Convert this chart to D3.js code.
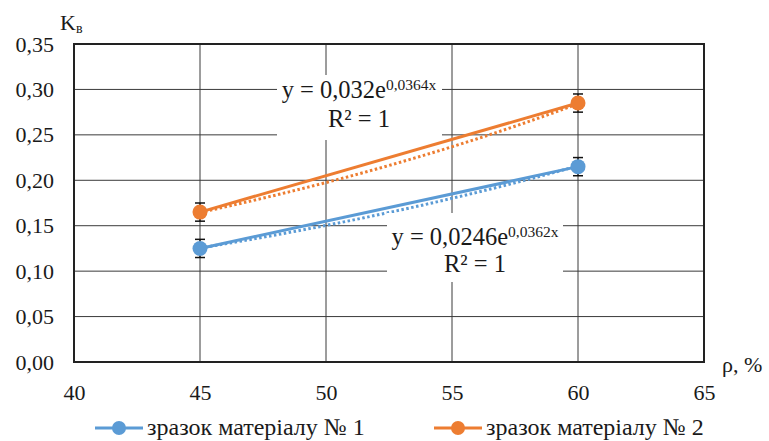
<!DOCTYPE html>
<html>
<head>
<meta charset="utf-8">
<script src="https://cdn.jsdelivr.net/npm/d3@7"></script>
</head>
<body style="margin:0; background:#fff">
<div id="chart"></div>
<script>
const width = 769;
const height = 441;

// Дані
const xValues = [45, 60];
const series1 = [0.125, 0.215];
const series2 = [0.165, 0.285];
const errors = [0.01, 0.01];
const seriesNames = ["зразок матеріалу № 1", "зразок матеріалу № 2"];
const trendA = [0.0246, 0.032];
const trendB = [0.0362, 0.0364];
const trendText = ["0,0246", "0,032"];
const trendPower = ["0,0362x", "0,0364x"];
const xTicks = [40, 45, 50, 55, 60, 65];
const yTicks = [0, 0.05, 0.10, 0.15, 0.20, 0.25, 0.30, 0.35];

const colors = ["#5b9bd5", "#ed7d31"];
const margin = { left: 74, right: 65, top: 44, bottom: 79 };
const serif = "Liberation Serif";

const svg = d3.select("#chart").append("svg")
    .attr("width", width)
    .attr("height", height);

const x = d3.scaleLinear().domain([40, 65]).range([margin.left, width - margin.right]);
const y = d3.scaleLinear().domain([0, 0.35]).range([height - margin.bottom, margin.top]);

const fmt = d => d.toFixed(2).replace(".", ",");

// Сітка
const grid = svg.append("g");
grid.selectAll(".hg").data(yTicks).enter().append("line")
    .attr("x1", x(40)).attr("x2", x(65))
    .attr("y1", d => y(d)).attr("y2", d => y(d))
    .attr("stroke", "#3a3a3a").attr("stroke-width", 1);
grid.selectAll(".vg").data(xTicks).enter().append("line")
    .attr("x1", d => x(d)).attr("x2", d => x(d))
    .attr("y1", y(0)).attr("y2", y(0.35))
    .attr("stroke", "#3a3a3a").attr("stroke-width", 1);

// Рамка
svg.append("rect")
    .attr("x", x(40)).attr("y", y(0.35))
    .attr("width", x(65) - x(40)).attr("height", y(0) - y(0.35))
    .attr("fill", "none").attr("stroke", "#222").attr("stroke-width", 2);

// Осі (тільки підписи)
svg.append("g")
    .attr("transform", `translate(0,${y(0)})`)
    .call(d3.axisBottom(x).tickValues(xTicks).tickSize(0).tickPadding(22))
    .call(g => g.select(".domain").remove());

svg.append("g")
    .attr("transform", `translate(${x(40)},0)`)
    .call(d3.axisLeft(y).tickValues(yTicks).tickFormat(fmt).tickSize(0).tickPadding(20))
    .call(g => g.select(".domain").remove());

// Назви осей
const kv = svg.append("text").attr("x", 60).attr("y", 30).attr("font-size", 22);
kv.append("tspan").text("K");
kv.append("tspan").attr("font-size", 14).attr("dy", 3).text("в");

svg.append("text").attr("x", 722).attr("y", 372).attr("font-size", 22).text("ρ, %");

const allSeries = [series1, series2];

// Лінії тренду (за рівняннями з графіка)
allSeries.forEach((s, i) => {
    const pts = d3.range(45, 60.01, 0.5).map(v => [v, trendA[i] * Math.exp(trendB[i] * v)]);
    svg.append("path")
        .datum(pts)
        .attr("fill", "none")
        .attr("stroke", colors[i])
        .attr("stroke-width", 3)
        .attr("stroke-dasharray", "2.5,2.5")
        .attr("d", d3.line().x(d => x(d[0])).y(d => y(d[1])));
});

// Ряди даних
allSeries.forEach((s, i) => {
    const data = xValues.map((v, j) => ({ x: v, y: s[j], e: errors[j] }));
    svg.append("path")
        .datum(data)
        .attr("fill", "none")
        .attr("stroke", colors[i])
        .attr("stroke-width", 3)
        .attr("d", d3.line().x(d => x(d.x)).y(d => y(d.y)));

    const eb = svg.append("g").selectAll("g").data(data).enter().append("g");
    eb.append("line")
        .attr("x1", d => x(d.x)).attr("x2", d => x(d.x))
        .attr("y1", d => y(d.y - d.e)).attr("y2", d => y(d.y + d.e))
        .attr("stroke", "#111").attr("stroke-width", 1.2);
    eb.append("line")
        .attr("x1", d => x(d.x) - 5).attr("x2", d => x(d.x) + 5)
        .attr("y1", d => y(d.y - d.e)).attr("y2", d => y(d.y - d.e))
        .attr("stroke", "#111").attr("stroke-width", 1.5);
    eb.append("line")
        .attr("x1", d => x(d.x) - 5).attr("x2", d => x(d.x) + 5)
        .attr("y1", d => y(d.y + d.e)).attr("y2", d => y(d.y + d.e))
        .attr("stroke", "#111").attr("stroke-width", 1.5);

    svg.append("g").selectAll("circle").data(data).enter().append("circle")
        .attr("cx", d => x(d.x)).attr("cy", d => y(d.y))
        .attr("r", 7.5)
        .attr("fill", colors[i]);
});

// Рівняння трендів
const labels = [
    { box: [387, 213, 176, 69], cx: 475, y1: 245, y2: 272 },
    { box: [277, 75, 165, 65], cx: 359, y1: 98, y2: 127 }
];
labels.forEach((l, i) => {
    svg.append("rect")
        .attr("x", l.box[0]).attr("y", l.box[1])
        .attr("width", l.box[2]).attr("height", l.box[3])
        .attr("fill", "#fff");
    const t = svg.append("text").attr("x", l.cx).attr("y", l.y1)
        .attr("text-anchor", "middle").attr("font-size", 24.5);
    t.append("tspan").text(`y = ${trendText[i]}e`);
    t.append("tspan").attr("font-size", 15.5).attr("dy", -8).text(trendPower[i]);
    svg.append("text").attr("x", l.cx).attr("y", l.y2)
        .attr("text-anchor", "middle").attr("font-size", 24.5)
        .text("R² = 1");
});

// Легенда
const legendX = [95, 434];
seriesNames.forEach((name, i) => {
    const g = svg.append("g").attr("transform", `translate(${legendX[i]},428)`);
    g.append("line").attr("x1", 0).attr("x2", 48).attr("y1", 0).attr("y2", 0)
        .attr("stroke", colors[i]).attr("stroke-width", 3);
    g.append("circle").attr("cx", 24).attr("cy", 0).attr("r", 7).attr("fill", colors[i]);
    g.append("text").attr("x", 52).attr("y", 7).attr("font-size", 24).text(name);
});

// Шрифт для всіх підписів
svg.selectAll("text")
    .attr("font-family", serif)
    .attr("font-size", function () { return this.getAttribute("font-size") || 22; })
    .attr("fill", "#1a1a1a");
svg.selectAll("tspan").attr("font-family", serif);
</script>
</body>
</html>
